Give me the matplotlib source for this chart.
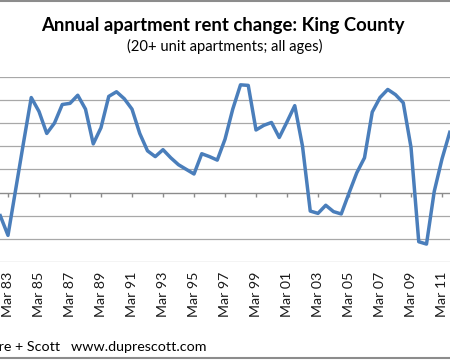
import matplotlib
matplotlib.use('Agg')
import matplotlib.pyplot as plt
from matplotlib.patches import Rectangle
import numpy as np

# semi-annual rent change (%), Sep 82 .. Sep 11
rent_change = [-2.0, -3.7, 0.3, 4.3, 8.2, 7.0, 5.1, 6.0, 7.6, 7.7,
               8.4, 7.2, 4.2, 5.6, 8.3, 8.7, 8.1, 7.2, 5.1, 3.6,
               3.1, 3.7, 3.0, 2.4, 2.0, 1.6, 3.35, 3.1, 2.8, 4.6,
               7.2, 9.3, 9.25, 5.4, 5.8, 6.05, 4.75, 6.1, 7.5, 4.0,
               -1.6, -1.8, -1.1, -1.65, -1.85, -0.05, 1.7, 3.0, 6.95, 8.2,
               8.9, 8.45, 7.75, 3.9, -4.25, -4.45, 0.1, 2.9, 5.2]
tick_labels = ['Mar 83', 'Mar 85', 'Mar 87', 'Mar 89', 'Mar 91', 'Mar 93',
               'Mar 95', 'Mar 97', 'Mar 99', 'Mar 01', 'Mar 03', 'Mar 05',
               'Mar 07', 'Mar 09', 'Mar 11']

plt.rcParams['font.family'] = ['Lato', 'DejaVu Sans']

x = np.arange(len(rent_change)) - 1  # index 0 = Mar 83
tick_pos = np.arange(len(tick_labels)) * 4

fig = plt.figure(figsize=(4.5, 3.61), dpi=100)
ax = fig.add_axes([0.0, 0.2742, 1.0, 0.5133])

for y in np.arange(-6, 11, 2):
    if y != 0:
        ax.axhline(y, color='#a8a8a8', lw=0.9, zorder=1)
ax.axhline(0, color='#8c8c8c', lw=1.0, zorder=1)
ax.vlines(tick_pos, -0.4, 0, color='#8c8c8c', lw=1.0, zorder=1)

ax.plot(x, rent_change, color='#4a7ebb', lw=2.5, solid_joinstyle='round', zorder=3)

ax.set_xlim(-8 / 7.75, 442 / 7.75)
ax.set_ylim(-6, 10)
ax.set_xticks(tick_pos)
ax.set_xticklabels(tick_labels, rotation=90, fontsize=10.2, color='#1a1a1a')
ax.tick_params(axis='x', length=0, pad=7)
ax.set_yticks([])
for s in ax.spines.values():
    s.set_visible(False)

fig.text(0.496, 0.928, 'Annual apartment rent change: King County',
         ha='center', va='center', fontsize=13.3, fontweight='bold')
fig.text(0.499, 0.870, '(20+ unit apartments; all ages)',
         ha='center', va='center', fontsize=10.6)
fig.text(206 / 450, 0.039, 'Dupre + Scott   www.duprescott.com',
         ha='right', va='center', fontsize=10.3)

fig.patches.append(Rectangle((-0.1, 0.008), 1.2, 0.988, fill=False,
                             edgecolor='#8c8c8c', lw=1.5,
                             transform=fig.transFigure))

fig.savefig('out.png', dpi=100)
